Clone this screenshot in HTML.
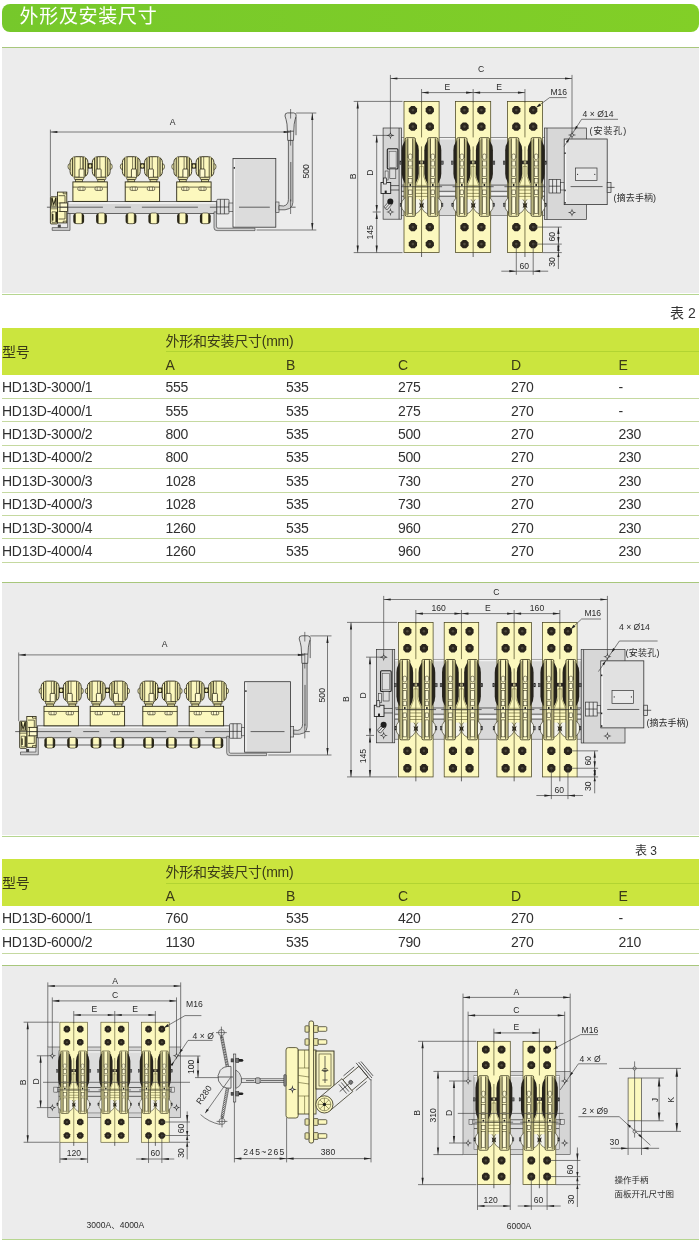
<!DOCTYPE html>
<html lang="zh"><head><meta charset="utf-8"><title>外形及安装尺寸</title>
<style>
html,body{margin:0;padding:0;background:#fff}
body{width:700px;height:1244px;position:relative;overflow:hidden;font-family:"Liberation Sans","Noto Sans CJK SC",sans-serif;color:#2b2b2b}
.hdr{position:absolute;left:2px;top:4px;width:696.5px;height:27.5px;border-radius:8px;background:linear-gradient(90deg,#76c82b,#82cf27);color:#fff;font-size:19px;line-height:25px;letter-spacing:0.7px;box-sizing:border-box;padding-left:17.5px}
.panel{position:absolute;left:2px;width:696.5px;background:#ececec;border-top:1px solid #a8c77c;box-sizing:border-box}
.pl{position:absolute;left:2px;width:696.5px;height:1px;background:#b6d690}
.cap{position:absolute;font-size:14px;line-height:16px;color:#333;white-space:nowrap}
table{position:absolute;left:2px;width:697px;border-collapse:collapse;table-layout:fixed;font-size:14px;letter-spacing:-0.25px}
td,th{box-sizing:border-box;line-height:16px;padding:1px 0 0 0;text-align:left;font-weight:normal;white-space:nowrap;overflow:visible}
thead th{background:#cbe53e;color:#3a3a18;padding:3px 0 0 0}
thead tr.r1 th.sp{border-bottom:1px solid #b2d432}
tbody td{border-bottom:1px solid #c5d9a0;color:#303030}
thead th.xh{padding:1px 0 0 0}
svg{position:absolute;left:0;top:0;will-change:transform}
table,.cap,.hdr{will-change:transform}
svg .d{stroke:#3a3a3a;stroke-width:.65;fill:none}
svg .ar{fill:#222;stroke:none}
svg .t{fill:#2b2b2b;font-family:"Liberation Sans","Noto Sans CJK SC",sans-serif}
svg .k{stroke:#2a2a2a;stroke-width:.7;fill:none}
svg .o{stroke:#5e5a2a;stroke-width:.6;fill:none}
svg .cl{stroke:#3a3a3a;stroke-width:.6;fill:none;stroke-dasharray:14 3 2 3}
</style></head><body>
<div class="hdr">外形及安装尺寸</div>
<div class="panel" style="top:47px;height:246px"></div><div class="pl" style="top:294px"></div>
<div class="cap" style="left:669.5px;top:305px">表 2</div>
<table style="top:328px"><colgroup><col style="width:163.5px"><col style="width:120.5px"><col style="width:112px"><col style="width:113px"><col style="width:107.5px"><col></colgroup><thead><tr class="r1" style="height:23.7px"><th class="xh" rowspan="2">型号</th><th class="sp" colspan="5">外形和安装尺寸(mm)</th></tr><tr style="height:23.2px"><th>A</th><th>B</th><th>C</th><th>D</th><th>E</th></tr></thead><tbody><tr style="height:23.45px"><td>HD13D-3000/1</td><td>555</td><td>535</td><td>275</td><td>270</td><td>-</td></tr><tr style="height:23.45px"><td>HD13D-4000/1</td><td>555</td><td>535</td><td>275</td><td>270</td><td>-</td></tr><tr style="height:23.45px"><td>HD13D-3000/2</td><td>800</td><td>535</td><td>500</td><td>270</td><td>230</td></tr><tr style="height:23.45px"><td>HD13D-4000/2</td><td>800</td><td>535</td><td>500</td><td>270</td><td>230</td></tr><tr style="height:23.45px"><td>HD13D-3000/3</td><td>1028</td><td>535</td><td>730</td><td>270</td><td>230</td></tr><tr style="height:23.45px"><td>HD13D-4000/3</td><td>1028</td><td>535</td><td>730</td><td>270</td><td>230</td></tr><tr style="height:23.45px"><td>HD13D-3000/4</td><td>1260</td><td>535</td><td>960</td><td>270</td><td>230</td></tr><tr style="height:23.45px"><td>HD13D-4000/4</td><td>1260</td><td>535</td><td>960</td><td>270</td><td>230</td></tr></tbody></table>
<div class="panel" style="top:582px;height:253px"></div><div class="pl" style="top:836px"></div>
<div class="cap" style="left:635px;top:843.5px;font-size:12px;line-height:14px">表 3</div>
<table style="top:859.4px"><colgroup><col style="width:163.5px"><col style="width:120.5px"><col style="width:112px"><col style="width:113px"><col style="width:107.5px"><col></colgroup><thead><tr class="r1" style="height:24px"><th class="xh" rowspan="2">型号</th><th class="sp" colspan="5">外形和安装尺寸(mm)</th></tr><tr style="height:23px"><th>A</th><th>B</th><th>C</th><th>D</th><th>E</th></tr></thead><tbody><tr style="height:23.6px"><td>HD13D-6000/1</td><td>760</td><td>535</td><td>420</td><td>270</td><td>-</td></tr><tr style="height:23.6px"><td>HD13D-6000/2</td><td>1130</td><td>535</td><td>790</td><td>270</td><td>210</td></tr></tbody></table>
<div class="panel" style="top:965px;height:273.5px"></div><div class="pl" style="top:1239px"></div>
<svg width="700" height="1244" viewBox="0 0 700 1244">
<defs><g id="pp"><rect x="0" y="0" width="35.1" height="151.2" fill="#fcf8be" stroke="#4a4622" stroke-width="0.75"/><ellipse cx="7.5" cy="103.7" rx="10.2" ry="9.6" fill="#f3f3ea" stroke="#2f2c16" stroke-width="0.6"/><ellipse cx="27.6" cy="103.7" rx="10.2" ry="9.6" fill="#f3f3ea" stroke="#2f2c16" stroke-width="0.6"/><rect x="11.5" y="84" width="12.1" height="14" fill="#fcf8be" stroke="none" stroke-width="0.6"/><path class="o" d="M11.5 85.6H23.6"/><path class="o" d="M11.5 88.6H23.6"/><path class="o" d="M11.5 92H23.6"/><path class="o" d="M11.5 95H23.6"/><rect x="-2.2" y="36.9" width="17" height="47.4" rx="8.5" ry="12" fill="#26231c"/><rect x="20.3" y="36.9" width="17" height="47.4" rx="8.5" ry="12" fill="#26231c"/><path fill="#fcf8be" stroke="#5e5a2a" stroke-width=".5" d="M15.6 65H19.6V75L23.2 84H12L15.6 75Z"/><rect x="14.3" y="59.2" width="6.6" height="3.6" fill="#2a2620"/><rect x="16.4" y="59.8" width="2.4" height="2.4" fill="#d9d5a8"/><path fill="#2a2620" d="M15.2 101.2Q17.6 103.6 20 101.2L19.2 104L20 106.8Q17.6 104.4 15.2 106.8L16 104Z"/><rect x="1.2" y="36.3" width="10.2" height="78.6" fill="#f6f1b6" stroke="#2f2c16" stroke-width="0.8" rx="1.4"/><rect x="3.9" y="37" width="4.8" height="77" fill="#fdf9c4" stroke="none" stroke-width="0.6"/><path stroke="#2f2c16" stroke-width=".95" fill="none" d="M3.8 37V57M8.8 37V57"/><path stroke="#2f2c16" stroke-width=".75" fill="none" d="M3.8 57V114M8.8 57V114"/><path stroke="#5e5a2a" stroke-width=".5" fill="none" d="M2.4 38V113.6M10.2 38V113.6"/><rect x="4.5" y="52.6" width="3.6" height="5.6" fill="#fffcd8" stroke="#2f2c16" stroke-width="0.55" rx="1.6"/><rect x="4.5" y="59.6" width="3.6" height="5" fill="#fffcd8" stroke="#2f2c16" stroke-width="0.55"/><rect x="4.5" y="66.6" width="3.6" height="8.6" fill="#fffcd8" stroke="#2f2c16" stroke-width="0.55"/><rect x="4.5" y="77" width="3.6" height="4.6" fill="#fffcd8" stroke="#2f2c16" stroke-width="0.55"/><rect x="4.5" y="88.6" width="3.6" height="4.4" fill="#fffcd8" stroke="#2f2c16" stroke-width="0.55"/><rect x="4.5" y="95.4" width="3.6" height="16.6" fill="#fffcd8" stroke="#2f2c16" stroke-width="0.55"/><circle cx="6.3" cy="83.7" r="1" fill="#111"/><rect x="23.7" y="36.3" width="10.2" height="78.6" fill="#f6f1b6" stroke="#2f2c16" stroke-width="0.8" rx="1.4"/><rect x="26.4" y="37" width="4.8" height="77" fill="#fdf9c4" stroke="none" stroke-width="0.6"/><path stroke="#2f2c16" stroke-width=".95" fill="none" d="M26.3 37V57M31.3 37V57"/><path stroke="#2f2c16" stroke-width=".75" fill="none" d="M26.3 57V114M31.3 57V114"/><path stroke="#5e5a2a" stroke-width=".5" fill="none" d="M24.9 38V113.6M32.7 38V113.6"/><rect x="27" y="52.6" width="3.6" height="5.6" fill="#fffcd8" stroke="#2f2c16" stroke-width="0.55" rx="1.6"/><rect x="27" y="59.6" width="3.6" height="5" fill="#fffcd8" stroke="#2f2c16" stroke-width="0.55"/><rect x="27" y="66.6" width="3.6" height="8.6" fill="#fffcd8" stroke="#2f2c16" stroke-width="0.55"/><rect x="27" y="77" width="3.6" height="4.6" fill="#fffcd8" stroke="#2f2c16" stroke-width="0.55"/><rect x="27" y="88.6" width="3.6" height="4.4" fill="#fffcd8" stroke="#2f2c16" stroke-width="0.55"/><rect x="27" y="95.4" width="3.6" height="16.6" fill="#fffcd8" stroke="#2f2c16" stroke-width="0.55"/><circle cx="28.8" cy="83.7" r="1" fill="#111"/><rect x="-4.1" y="59.6" width="1.7" height="3.4" fill="#6d6d6d" stroke="#222" stroke-width="0.5"/><rect x="37.5" y="59.6" width="1.7" height="3.4" fill="#6d6d6d" stroke="#222" stroke-width="0.5"/><rect x="-3.8" y="101.8" width="1.5" height="3.4" fill="#6d6d6d" stroke="#222" stroke-width="0.5"/><rect x="37.4" y="101.8" width="1.5" height="3.4" fill="#6d6d6d" stroke="#222" stroke-width="0.5"/><path class="k" d="M-3 85.3H38.1" stroke-width=".6"/><path d="M17.55 0V36M17.55 45V151.2" stroke="#4a4622" stroke-width=".7" fill="none"/><path fill="#2b261d" d="M13.03 10.41L10.61 12.83L7.19 12.83L4.77 10.41L4.77 6.99L7.19 4.57L10.61 4.57L13.03 6.99Z"/><circle cx="8.9" cy="8.7" r="1.29" fill="#4f4a3f"/><path fill="#2b261d" d="M13.03 26.91L10.61 29.33L7.19 29.33L4.77 26.91L4.77 23.49L7.19 21.07L10.61 21.07L13.03 23.49Z"/><circle cx="8.9" cy="25.2" r="1.29" fill="#4f4a3f"/><path fill="#2b261d" d="M13.03 127.41L10.61 129.83L7.19 129.83L4.77 127.41L4.77 123.99L7.19 121.57L10.61 121.57L13.03 123.99Z"/><circle cx="8.9" cy="125.7" r="1.29" fill="#4f4a3f"/><path fill="#2b261d" d="M13.03 144.41L10.61 146.83L7.19 146.83L4.77 144.41L4.77 140.99L7.19 138.57L10.61 138.57L13.03 140.99Z"/><circle cx="8.9" cy="142.7" r="1.29" fill="#4f4a3f"/><path fill="#2b261d" d="M29.93 10.41L27.51 12.83L24.09 12.83L21.67 10.41L21.67 6.99L24.09 4.57L27.51 4.57L29.93 6.99Z"/><circle cx="25.8" cy="8.7" r="1.29" fill="#4f4a3f"/><path fill="#2b261d" d="M29.93 26.91L27.51 29.33L24.09 29.33L21.67 26.91L21.67 23.49L24.09 21.07L27.51 21.07L29.93 23.49Z"/><circle cx="25.8" cy="25.2" r="1.29" fill="#4f4a3f"/><path fill="#2b261d" d="M29.93 127.41L27.51 129.83L24.09 129.83L21.67 127.41L21.67 123.99L24.09 121.57L27.51 121.57L29.93 123.99Z"/><circle cx="25.8" cy="125.7" r="1.29" fill="#4f4a3f"/><path fill="#2b261d" d="M29.93 144.41L27.51 146.83L24.09 146.83L21.67 144.41L21.67 140.99L24.09 138.57L27.51 138.57L29.93 140.99Z"/><circle cx="25.8" cy="142.7" r="1.29" fill="#4f4a3f"/></g><g id="un"><rect x="-3" y="-38.2" width="6" height="5.4" fill="#2a2718"/><ellipse cx="0" cy="-35.4" rx="1.4" ry="1.8" fill="#e9e4a6"/><ellipse cx="-20.4" cy="-34.8" rx="1.7" ry="2.8" fill="#fcf8be" stroke="#2b2816" stroke-width="0.7"/><ellipse cx="20.4" cy="-34.8" rx="1.7" ry="2.8" fill="#fcf8be" stroke="#2b2816" stroke-width="0.7"/><rect x="-20" y="-44.7" width="17.8" height="20.6" fill="#fcf8be" stroke="#2b2816" stroke-width="0.9" rx="5.6"/><rect x="-17.7" y="-44" width="2.2" height="19.2" fill="#ddd896" stroke="none" stroke-width="0.6"/><rect x="-6.7" y="-44" width="2.2" height="19.2" fill="#ddd896" stroke="none" stroke-width="0.6"/><path stroke="#2b2816" stroke-width=".9" fill="none" d="M-17.7 -43.4V-25.4M-4.5 -43.4V-25.4"/><path stroke="#2b2816" stroke-width=".7" fill="none" d="M-15.3 -44.4V-24.4M-6.9 -44.4V-24.4"/><path stroke="#2b2816" stroke-width=".6" fill="none" d="M-9.8 -44.4V-32M-7.2 -44.4V-32"/><rect x="-11" y="-32.4" width="5" height="9" fill="#fffbd0" stroke="#2b2816" stroke-width="0.8" rx="0.8"/><rect x="-15.7" y="-24.1" width="9.2" height="2.4" fill="#e9e4a6" stroke="#2b2816" stroke-width="0.7" rx="1"/><rect x="-14.5" y="-21.7" width="6.8" height="2.2" fill="#e9e4a6" stroke="#2b2816" stroke-width="0.7"/><rect x="2.2" y="-44.7" width="17.8" height="20.6" fill="#fcf8be" stroke="#2b2816" stroke-width="0.9" rx="5.6"/><rect x="4.5" y="-44" width="2.2" height="19.2" fill="#ddd896" stroke="none" stroke-width="0.6"/><rect x="15.5" y="-44" width="2.2" height="19.2" fill="#ddd896" stroke="none" stroke-width="0.6"/><path stroke="#2b2816" stroke-width=".9" fill="none" d="M4.5 -43.4V-25.4M17.7 -43.4V-25.4"/><path stroke="#2b2816" stroke-width=".7" fill="none" d="M6.9 -44.4V-24.4M15.3 -44.4V-24.4"/><path stroke="#2b2816" stroke-width=".6" fill="none" d="M7.2 -44.4V-32M9.8 -44.4V-32"/><rect x="6" y="-32.4" width="5" height="9" fill="#fffbd0" stroke="#2b2816" stroke-width="0.8" rx="0.8"/><rect x="6.5" y="-24.1" width="9.2" height="2.4" fill="#e9e4a6" stroke="#2b2816" stroke-width="0.7" rx="1"/><rect x="7.7" y="-21.7" width="6.8" height="2.2" fill="#e9e4a6" stroke="#2b2816" stroke-width="0.7"/><rect x="-17.2" y="-19.5" width="34.4" height="19.5" fill="#fcf8be" stroke="#2b2816" stroke-width="0.9"/><path stroke="#2b2816" stroke-width=".7" fill="none" d="M-17.2 -14.3H17.2"/><rect x="-12.3" y="-14.3" width="7.4" height="3.3" fill="#fffbd0" stroke="#2b2816" stroke-width="0.65" rx="1.2"/><path stroke="#2b2816" stroke-width=".5" fill="none" d="M-10.1 -14.3V-11M-7.1 -14.3V-11"/><rect x="4.9" y="-14.3" width="7.4" height="3.3" fill="#fffbd0" stroke="#2b2816" stroke-width="0.65" rx="1.2"/><path stroke="#2b2816" stroke-width=".5" fill="none" d="M7.1 -14.3V-11M10.1 -14.3V-11"/><rect x="-16.8" y="12" width="10.8" height="10.3" fill="#2a2718" stroke="none" stroke-width="0.6" rx="2.8"/><rect x="-14.7" y="11.6" width="6.6" height="10.7" fill="#fcf8be" stroke="#2b2816" stroke-width="0.6" rx="1.4"/><rect x="6" y="12" width="10.8" height="10.3" fill="#2a2718" stroke="none" stroke-width="0.6" rx="2.8"/><rect x="8.1" y="11.6" width="6.6" height="10.7" fill="#fcf8be" stroke="#2b2816" stroke-width="0.6" rx="1.4"/></g></defs>
<!-- panel 1 -->
<g><path fill="#cfcfcf" stroke="#333" stroke-width=".6" d="M52.2 230.4H70V213H67.6V227.6H52.2Z"/><rect x="57.8" y="224.6" width="3" height="3" fill="#444"/><rect x="67.9" y="201.4" width="148.9" height="12" fill="#d6d6d6" stroke="#444" stroke-width="0.8"/><path d="M68.9 203H215.8" stroke="#f4f4f4" stroke-width="1.4"/><use href="#un" x="0" y="0" transform="translate(90.1 201.4)"/><use href="#un" x="0" y="0" transform="translate(142.4 201.4)"/><use href="#un" x="0" y="0" transform="translate(193.9 201.4)"/><g transform="translate(50.4 201.4)"><rect x="7.1" y="-9.3" width="9.3" height="30.8" fill="#fcf8be" stroke="#2a2716" stroke-width="0.85"/><path stroke="#2a2716" stroke-width=".7" fill="none" d="M8.2 -5.7H14.6V1.6H8.2M8.2 10H14.6V17.6H8.2M12.8 -9.3V-7.6H16.4M12.8 21.5V19.8H16.4"/><rect x="9.6" y="1.6" width="7.6" height="8.4" fill="#fffbd0" stroke="#2a2716" stroke-width="0.75"/><path stroke="#2a2716" stroke-width=".6" fill="none" d="M9.6 5.8H17.2"/><rect x="0" y="-4.6" width="7.1" height="27.1" fill="#fcf8be" stroke="#2a2716" stroke-width="0.9" rx="0.8"/><path fill="#2a2716" d="M.8 -4H2.2L3.4 1.6L4.8 -4H6.2V4.4H4.9V-.4L3.6 4.4H3.1L2 -.4V4.4H.8Z"/><path stroke="#2a2716" stroke-width=".6" fill="none" d="M0 4.8H7.1M0 7.4H7.1M1.6 10.4H5.2V21H1.6Z"/><rect x="5.5" y="10.4" width="1.3" height="10.8" fill="#2a2716"/><rect x="1.7" y="12.6" width="1.3" height="6.6" fill="#2a2716"/></g><path class="k" stroke-dasharray="56 12 16 11" d="M46.9 207.2H216.8" stroke-width=".7"/><rect x="216.8" y="199.3" width="12.2" height="14.6" fill="#e2e2e2" stroke="#333" stroke-width="0.7" rx="1"/><path class="k" d="M220.4 199.3V213.9M224.4 199.3V213.9M216.8 207H229"/><rect x="229" y="203" width="4.4" height="8.4" fill="#e2e2e2" stroke="#333" stroke-width="0.6"/><path fill="#cfcfcf" stroke="#333" stroke-width=".6" d="M214 211.9V227.8Q214 230.6 217 230.6H255V228.2H218Q216.4 228.2 216.4 226.2V211.9Z"/><rect x="233" y="158.5" width="42.8" height="68.7" fill="#dcdcdc" stroke="#333" stroke-width="0.8"/><path d="M234.4 159.5V226.2" stroke="#f6f6f6" stroke-width="1.2"/><rect x="233.6" y="167.1" width="1.4" height="1.6" fill="#222"/><rect x="275.8" y="202" width="3.2" height="10.6" fill="#d8d8d8" stroke="#333" stroke-width="0.6"/><path class="k" d="M239 207.2H269.8M281.8 207.2H295.6" stroke-width=".6"/><path fill="#d4d4d4" stroke="#333" stroke-width=".7" d="M288.4 140V199.4Q288.4 205 283.6 206L279 205.6L279 209.8Q292.9 211 292.9 202.4V140Z"/><path class="k" d="M290.8 162V201.4" stroke-width=".5"/><path fill="#e2e2e2" stroke="#333" stroke-width=".75" d="M285 116Q284.7 112.9 287.6 112.9H293.6Q296.5 112.9 296.2 116Q295 119.2 294.2 124.2L293.8 131.2L293.5 140.4H287.7L287.4 131.2L287 124.2Q286.2 119.2 285 116Z"/><path class="k" d="M296 117.2V135.2" stroke-width=".9"/><path class="k" d="M287.4 131.2H293.8" stroke-width=".6"/><path class="d" d="M290.6 109V118.6M290.6 130.2V145.6M290.6 199.4V214"/><path class="d" d="M50.4 129.6L50.4 196.8"/><path class="d" d="M50.4 132L290.6 132"/><path class="ar" d="M50.4 132L57.4 130.9L57.4 133.1Z"/><path class="ar" d="M290.6 132L283.6 133.1L283.6 130.9Z"/><text class="t" x="172.5" y="124.5" font-size="8.6" text-anchor="middle">A</text><path class="d" d="M296.1 113L316.3 113"/><path class="d" d="M256.6 230L316.3 230"/><path class="d" d="M312.3 113L312.3 230"/><path class="ar" d="M312.3 113L313.4 120L311.2 120Z"/><path class="ar" d="M312.3 230L311.2 223L313.4 223Z"/><text transform="rotate(-90 306 171.3)" class="t" x="306" y="174.4" font-size="8.6" text-anchor="middle">500</text></g>
<g><rect x="401.4" y="137.5" width="143.2" height="78.2" fill="#d9d9d9" stroke="#555" stroke-width="0.6"/><path d="M401.4 138.7H544.6" stroke="#f2f2f2" stroke-width="1.4"/><path class="k" d="M401.4 185.1H544.6M401.4 191.3H544.6M401.4 196.3H544.6" stroke="#555" stroke-width=".6"/><path d="M401.4 193.8H544.6" stroke="#efefef" stroke-width="2.6"/><g transform="translate(383.1 128) scale(1 1.0000)"><rect x="0" y="0" width="18.3" height="91.2" fill="#d6d6d6" stroke="#333" stroke-width="0.7"/><path class="k" d="M16 0V91.2" stroke-width=".5"/><rect x="4.2" y="20.7" width="10.6" height="20.3" fill="#cfcfcf" stroke="#222" stroke-width="1.1" rx="1"/><rect x="6" y="23.6" width="7" height="15.8" fill="#dedede" stroke="#444" stroke-width="0.5"/><rect x="6.7" y="41" width="6" height="9.3" fill="#dcdcdc" stroke="#333" stroke-width="0.6"/><rect x="2" y="43" width="3" height="9" fill="#e6e6e6" stroke="#333" stroke-width="0.6"/><rect x="-2.1" y="54.5" width="9.7" height="11" fill="#e2e2e2" stroke="#222" stroke-width="0.9"/><rect x="0.4" y="50" width="3" height="6" fill="#e2e2e2" stroke="#222" stroke-width="0.7"/><rect x="1.6" y="62.6" width="2" height="2.4" fill="#222"/><path class="k" d="M7.6 57.6H16M7.6 62H16" stroke="#888"/><path fill="#e4e4e4" stroke="#222" stroke-width=".7" d="M1.2 78.6L6.4 72.8L9.4 75.6L4.2 81.6Q1.8 81.6 1.2 78.6Z"/><path class="k" d="M2.6 80L7.8 74.2" stroke-width=".5"/><circle cx="7.2" cy="73.6" r="3" fill="#1e1e1e"/></g><g transform="translate(544.6 128) scale(1 1.0000)"><rect x="0" y="0" width="41.8" height="91.4" fill="#d7d7d7" stroke="#333" stroke-width="0.7"/><path class="k" d="M2.4 0V91.4" stroke-width=".5"/><rect x="4.4" y="51.4" width="11.6" height="13.6" fill="#e6e6e6" stroke="#333" stroke-width="0.7"/><path class="k" d="M8 51.4V65M12 51.4V65M4.4 58.2H16" stroke-width=".55"/><rect x="16" y="54.6" width="3.6" height="7.4" fill="#e6e6e6" stroke="#333" stroke-width="0.6"/><rect x="19.6" y="11" width="43" height="65.6" fill="#e1e1e1" stroke="#333" stroke-width="0.8"/><path d="M21 12.4V75" stroke="#f8f8f8" stroke-width="1.3"/><rect x="19.8" y="24.4" width="1.3" height="1.6" fill="#222"/><rect x="19.8" y="61.6" width="1.3" height="1.6" fill="#222"/><rect x="19.8" y="74" width="1.3" height="1.6" fill="#222"/><rect x="30.8" y="40" width="21.6" height="12.6" fill="#e9e9e9" stroke="#333" stroke-width="0.7"/><circle cx="33" cy="46.3" r=".6" fill="#222"/><circle cx="50.2" cy="46.3" r=".6" fill="#222"/><rect x="62.6" y="54.4" width="3.8" height="10.2" fill="#e1e1e1" stroke="#333" stroke-width="0.7"/><path class="k" d="M26 58.6H58M62.6 59.4H70" stroke-width=".6"/></g><use href="#pp" x="0" y="0" transform="translate(404 101.4)"/><path class="k" d="M421.55 252.6L421.55 257"/><use href="#pp" x="0" y="0" transform="translate(455.6 101.4)"/><path class="k" d="M473.15 252.6L473.15 257"/><use href="#pp" x="0" y="0" transform="translate(507.4 101.4)"/><path class="k" d="M524.95 252.6L524.95 257"/><path fill="#333" d="M390.4 131.2L391.2 134.6L394.6 135.4L391.2 136.2L390.4 139.6L389.6 136.2L386.2 135.4L389.6 134.6Z"/><circle cx="390.4" cy="135.4" r="1.5" fill="#dcdcdc" stroke="#333" stroke-width=".5"/><path fill="#333" d="M390.4 207.8L391.2 211.2L394.6 212L391.2 212.8L390.4 216.2L389.6 212.8L386.2 212L389.6 211.2Z"/><circle cx="390.4" cy="212" r="1.5" fill="#dcdcdc" stroke="#333" stroke-width=".5"/><path fill="#333" d="M572 130.8L572.8 134.2L576.2 135L572.8 135.8L572 139.2L571.2 135.8L567.8 135L571.2 134.2Z"/><circle cx="572" cy="135" r="1.5" fill="#dcdcdc" stroke="#333" stroke-width=".5"/><path fill="#333" d="M572 208.4L572.8 211.8L576.2 212.6L572.8 213.4L572 216.8L571.2 213.4L567.8 212.6L571.2 211.8Z"/><circle cx="572" cy="212.6" r="1.5" fill="#dcdcdc" stroke="#333" stroke-width=".5"/><path class="d" d="M353.7 101.4L402.5 101.4"/><path class="d" d="M353.7 252.6L402.5 252.6"/><path class="d" d="M357.7 101.4L357.7 252.6"/><path class="ar" d="M357.7 101.4L358.8 108.4L356.6 108.4Z"/><path class="ar" d="M357.7 252.6L356.6 245.6L358.8 245.6Z"/><text transform="rotate(-90 352.5 176.4)" class="t" x="352.5" y="179.5" font-size="8.6" text-anchor="middle">B</text><path class="d" d="M372.7 135.4L393.4 135.4"/><path class="d" d="M372.7 212L380.7 212"/><path class="d" d="M376.7 135.4L376.7 212"/><path class="ar" d="M376.7 135.4L377.8 142.4L375.6 142.4Z"/><path class="ar" d="M376.7 212L375.6 205L377.8 205Z"/><text transform="rotate(-90 369.7 172.7)" class="t" x="369.7" y="175.8" font-size="8.6" text-anchor="middle">D</text><path class="d" d="M376.7 212L376.7 252.6"/><path class="ar" d="M376.7 212L377.8 219L375.6 219Z"/><path class="ar" d="M376.7 252.6L375.6 245.6L377.8 245.6Z"/><text transform="rotate(-90 369.7 232.3)" class="t" x="369.7" y="235.4" font-size="8.6" text-anchor="middle">145</text><path class="d" d="M390.4 74.9L390.4 132.4"/><path class="d" d="M572 74.9L572 132.4"/><path class="d" d="M390.4 78.5L572 78.5"/><path class="ar" d="M390.4 78.5L397.4 77.4L397.4 79.6Z"/><path class="ar" d="M572 78.5L565 79.6L565 77.4Z"/><text class="t" x="481" y="71.7" font-size="8.6" text-anchor="middle">C</text><path class="d" d="M421.55 89L421.55 102.4"/><path class="d" d="M473.15 89L473.15 102.4"/><path class="d" d="M524.95 89L524.95 102.4"/><path class="d" d="M421.55 92.6L473.15 92.6"/><path class="ar" d="M421.55 92.6L428.55 91.5L428.55 93.7Z"/><path class="ar" d="M473.15 92.6L466.15 93.7L466.15 91.5Z"/><text class="t" x="447.35" y="89.5" font-size="8.6" text-anchor="middle">E</text><path class="d" d="M473.15 92.6L524.95 92.6"/><path class="ar" d="M473.15 92.6L480.15 91.5L480.15 93.7Z"/><path class="ar" d="M524.95 92.6L517.95 93.7L517.95 91.5Z"/><text class="t" x="499.05" y="89.5" font-size="8.6" text-anchor="middle">E</text><path class="d" d="M533.2 227.1L561.8 227.1"/><path class="d" d="M533.2 244.1L561.8 244.1"/><path class="d" d="M542.5 252.6L561.8 252.6"/><path class="d" d="M558.4 227.1L558.4 269"/><path class="ar" d="M558.4 227.1L559.5 234.1L557.3 234.1Z"/><path class="ar" d="M558.4 244.1L557.3 237.1L559.5 237.1Z"/><path class="ar" d="M558.4 244.1L559.5 251.1L557.3 251.1Z"/><path class="ar" d="M558.4 252.6L557.3 245.6L559.5 245.6Z"/><path class="ar" d="M558.4 252.6L559.5 257L557.3 257Z"/><text transform="rotate(-90 551.6 236.8)" class="t" x="551.6" y="239.9" font-size="8.6" text-anchor="middle">60</text><text transform="rotate(-90 551.6 262)" class="t" x="551.6" y="265.1" font-size="8.6" text-anchor="middle">30</text><path class="d" d="M516.3 244.1L516.3 274.8"/><path class="d" d="M533.2 244.1L533.2 274.8"/><path class="d" d="M501.3 271.2L548.2 271.2"/><path class="ar" d="M516.3 271.2L509.3 272.3L509.3 270.1Z"/><path class="ar" d="M533.2 271.2L540.2 270.1L540.2 272.3Z"/><text class="t" x="524.35" y="269.1" font-size="8.6" text-anchor="middle">60</text></g>
<text class="t" x="550.4" y="95.3" font-size="8.6" text-anchor="start">M16</text><path class="d" d="M549.6 97.6L566.6 97.6"/><path class="d" d="M549.6 97.6L536.6 107.2"/><path class="ar" d="M536.2 107.6L539.35 103.47L541.04 105.71Z"/><text class="t" x="582.6" y="116.7" font-size="8.6" text-anchor="start">4 × Ø14</text><path class="d" d="M581.6 119.3L618 119.3"/><path class="d" d="M581.6 119.3L564 146.5"/><path class="ar" d="M574.6 130L575.99 125.66L578 126.96Z"/><path class="ar" d="M569.4 138.4L568.01 142.74L566 141.44Z"/><text class="t" x="589.6" y="133.64" font-size="9" text-anchor="start" letter-spacing=".9">(安装孔)</text><text class="t" x="613.6" y="201.44" font-size="9" text-anchor="start" letter-spacing=".1">(摘去手柄)</text><!-- panel 2 -->
<g><path fill="#cfcfcf" stroke="#333" stroke-width=".6" d="M20.5 754.8H38.3V737.4H35.9V752H20.5Z"/><rect x="26.1" y="749" width="3" height="3" fill="#444"/><rect x="37.4" y="725.8" width="192.1" height="12" fill="#d6d6d6" stroke="#444" stroke-width="0.8"/><path d="M38.4 727.4H228.5" stroke="#f4f4f4" stroke-width="1.4"/><use href="#un" x="0" y="0" transform="translate(61.2 725.8)"/><use href="#un" x="0" y="0" transform="translate(107.4 725.8)"/><use href="#un" x="0" y="0" transform="translate(160 725.8)"/><use href="#un" x="0" y="0" transform="translate(206.4 725.8)"/><path class="k" stroke-width=".5" d="M44.2 745H223.4"/><g transform="translate(19.7 725.8)"><rect x="7.1" y="-9.3" width="9.3" height="30.8" fill="#fcf8be" stroke="#2a2716" stroke-width="0.85"/><path stroke="#2a2716" stroke-width=".7" fill="none" d="M8.2 -5.7H14.6V1.6H8.2M8.2 10H14.6V17.6H8.2M12.8 -9.3V-7.6H16.4M12.8 21.5V19.8H16.4"/><rect x="9.6" y="1.6" width="7.6" height="8.4" fill="#fffbd0" stroke="#2a2716" stroke-width="0.75"/><path stroke="#2a2716" stroke-width=".6" fill="none" d="M9.6 5.8H17.2"/><rect x="0" y="-4.6" width="7.1" height="27.1" fill="#fcf8be" stroke="#2a2716" stroke-width="0.9" rx="0.8"/><path fill="#2a2716" d="M.8 -4H2.2L3.4 1.6L4.8 -4H6.2V4.4H4.9V-.4L3.6 4.4H3.1L2 -.4V4.4H.8Z"/><path stroke="#2a2716" stroke-width=".6" fill="none" d="M0 4.8H7.1M0 7.4H7.1M1.6 10.4H5.2V21H1.6Z"/><rect x="5.5" y="10.4" width="1.3" height="10.8" fill="#2a2716"/><rect x="1.7" y="12.6" width="1.3" height="6.6" fill="#2a2716"/></g><path class="k" stroke-dasharray="56 12 16 11" d="M15.2 731.6H229.5" stroke-width=".7"/><rect x="229.5" y="723.7" width="12.2" height="14.6" fill="#e2e2e2" stroke="#333" stroke-width="0.7" rx="1"/><path class="k" d="M233.1 723.7V738.3M237.1 723.7V738.3M229.5 731.4H241.7"/><rect x="241.7" y="727.4" width="4.4" height="8.4" fill="#e2e2e2" stroke="#333" stroke-width="0.6"/><path fill="#cfcfcf" stroke="#333" stroke-width=".6" d="M226.7 736.3V752.8Q226.7 755.6 229.7 755.6H266.6V753.2H230.7Q229.1 753.2 229.1 751.2V736.3Z"/><rect x="244.6" y="681.7" width="45.9" height="70.5" fill="#dcdcdc" stroke="#333" stroke-width="0.8"/><path d="M246 682.7V751.2" stroke="#f6f6f6" stroke-width="1.2"/><rect x="245.2" y="690.3" width="1.4" height="1.6" fill="#222"/><rect x="290.5" y="726.4" width="3.2" height="10.6" fill="#d8d8d8" stroke="#333" stroke-width="0.6"/><path class="k" d="M250.6 731.6H284.5M296.5 731.6H309.8" stroke-width=".6"/><path fill="#d4d4d4" stroke="#333" stroke-width=".7" d="M302.6 662.9V723.8Q302.6 729.4 297.8 730.4L293.7 730L293.7 734.2Q307.1 735.4 307.1 726.8V662.9Z"/><path class="k" d="M305 684.9V725.8" stroke-width=".5"/><path fill="#e2e2e2" stroke="#333" stroke-width=".75" d="M299.2 638.9Q298.9 635.8 301.8 635.8H307.8Q310.7 635.8 310.4 638.9Q309.2 642.1 308.4 647.1L308 654.1L307.7 663.3H301.9L301.6 654.1L301.2 647.1Q300.4 642.1 299.2 638.9Z"/><path class="k" d="M310.2 640.1V658.1" stroke-width=".9"/><path class="k" d="M301.6 654.1H308" stroke-width=".6"/><path class="d" d="M304.8 631.9V641.5M304.8 653.1V668.5M304.8 723.8V738.4"/><path class="d" d="M18.7 652.5L18.7 721.2"/><path class="d" d="M18.7 654.9L304.8 654.9"/><path class="ar" d="M18.7 654.9L25.7 653.8L25.7 656Z"/><path class="ar" d="M304.8 654.9L297.8 656L297.8 653.8Z"/><text class="t" x="164.6" y="647.3" font-size="8.6" text-anchor="middle">A</text><path class="d" d="M310.3 635.9L331.5 635.9"/><path class="d" d="M268.2 755L331.5 755"/><path class="d" d="M327.5 635.9L327.5 755"/><path class="ar" d="M327.5 635.9L328.6 642.9L326.4 642.9Z"/><path class="ar" d="M327.5 755L326.4 748L328.6 748Z"/><text transform="rotate(-90 321.6 695.25)" class="t" x="321.6" y="698.35" font-size="8.6" text-anchor="middle">500</text></g>
<g><rect x="394.7" y="659.29" width="186.5" height="79.92" fill="#d9d9d9" stroke="#555" stroke-width="0.6"/><path d="M394.7 660.49H581.2" stroke="#f2f2f2" stroke-width="1.4"/><path class="k" d="M394.7 707.98H581.2M394.7 714.18H581.2M394.7 719.18H581.2" stroke="#555" stroke-width=".6"/><path d="M394.7 716.68H581.2" stroke="#efefef" stroke-width="2.6"/><g transform="translate(376.4 649.59) scale(1 1.0220)"><rect x="0" y="0" width="18.3" height="91.2" fill="#d6d6d6" stroke="#333" stroke-width="0.7"/><path class="k" d="M16 0V91.2" stroke-width=".5"/><rect x="4.2" y="20.7" width="10.6" height="20.3" fill="#cfcfcf" stroke="#222" stroke-width="1.1" rx="1"/><rect x="6" y="23.6" width="7" height="15.8" fill="#dedede" stroke="#444" stroke-width="0.5"/><rect x="6.7" y="41" width="6" height="9.3" fill="#dcdcdc" stroke="#333" stroke-width="0.6"/><rect x="2" y="43" width="3" height="9" fill="#e6e6e6" stroke="#333" stroke-width="0.6"/><rect x="-2.1" y="54.5" width="9.7" height="11" fill="#e2e2e2" stroke="#222" stroke-width="0.9"/><rect x="0.4" y="50" width="3" height="6" fill="#e2e2e2" stroke="#222" stroke-width="0.7"/><rect x="1.6" y="62.6" width="2" height="2.4" fill="#222"/><path class="k" d="M7.6 57.6H16M7.6 62H16" stroke="#888"/><path fill="#e4e4e4" stroke="#222" stroke-width=".7" d="M1.2 78.6L6.4 72.8L9.4 75.6L4.2 81.6Q1.8 81.6 1.2 78.6Z"/><path class="k" d="M2.6 80L7.8 74.2" stroke-width=".5"/><circle cx="7.2" cy="73.6" r="3" fill="#1e1e1e"/></g><g transform="translate(581.2 649.59) scale(1 1.0220)"><rect x="0" y="0" width="43.8" height="91.4" fill="#d7d7d7" stroke="#333" stroke-width="0.7"/><path class="k" d="M2.4 0V91.4" stroke-width=".5"/><rect x="4.4" y="51.4" width="11.6" height="13.6" fill="#e6e6e6" stroke="#333" stroke-width="0.7"/><path class="k" d="M8 51.4V65M12 51.4V65M4.4 58.2H16" stroke-width=".55"/><rect x="16" y="54.6" width="3.6" height="7.4" fill="#e6e6e6" stroke="#333" stroke-width="0.6"/><rect x="19.6" y="11" width="43" height="65.6" fill="#e1e1e1" stroke="#333" stroke-width="0.8"/><path d="M21 12.4V75" stroke="#f8f8f8" stroke-width="1.3"/><rect x="19.8" y="24.4" width="1.3" height="1.6" fill="#222"/><rect x="19.8" y="61.6" width="1.3" height="1.6" fill="#222"/><rect x="19.8" y="74" width="1.3" height="1.6" fill="#222"/><rect x="30.8" y="40" width="21.6" height="12.6" fill="#e9e9e9" stroke="#333" stroke-width="0.7"/><circle cx="33" cy="46.3" r=".6" fill="#222"/><circle cx="50.2" cy="46.3" r=".6" fill="#222"/><rect x="62.6" y="54.4" width="3.8" height="10.2" fill="#e1e1e1" stroke="#333" stroke-width="0.7"/><path class="k" d="M26 58.6H58M62.6 59.4H70" stroke-width=".6"/></g><use href="#pp" transform="translate(398.6 622.4) scale(0.9830 1.0220)"/><path class="k" d="M415.85 776.93L415.85 781.33"/><use href="#pp" transform="translate(444.2 622.4) scale(0.9830 1.0220)"/><path class="k" d="M461.45 776.93L461.45 781.33"/><use href="#pp" transform="translate(496.9 622.4) scale(0.9830 1.0220)"/><path class="k" d="M514.15 776.93L514.15 781.33"/><use href="#pp" transform="translate(542.6 622.4) scale(0.9830 1.0220)"/><path class="k" d="M559.85 776.93L559.85 781.33"/><path fill="#333" d="M383.7 652.95L384.5 656.35L387.9 657.15L384.5 657.95L383.7 661.35L382.9 657.95L379.5 657.15L382.9 656.35Z"/><circle cx="383.7" cy="657.15" r="1.5" fill="#dcdcdc" stroke="#333" stroke-width=".5"/><path fill="#333" d="M383.7 731.23L384.5 734.63L387.9 735.43L384.5 736.23L383.7 739.63L382.9 736.23L379.5 735.43L382.9 734.63Z"/><circle cx="383.7" cy="735.43" r="1.5" fill="#dcdcdc" stroke="#333" stroke-width=".5"/><path fill="#333" d="M607.4 652.55L608.2 655.95L611.6 656.75L608.2 657.55L607.4 660.95L606.6 657.55L603.2 656.75L606.6 655.95Z"/><circle cx="607.4" cy="656.75" r="1.5" fill="#dcdcdc" stroke="#333" stroke-width=".5"/><path fill="#333" d="M607.4 731.83L608.2 735.23L611.6 736.03L608.2 736.83L607.4 740.23L606.6 736.83L603.2 736.03L606.6 735.23Z"/><circle cx="607.4" cy="736.03" r="1.5" fill="#dcdcdc" stroke="#333" stroke-width=".5"/><path class="d" d="M347 622.4L397.1 622.4"/><path class="d" d="M347 776.93L397.1 776.93"/><path class="d" d="M351 622.4L351 776.93"/><path class="ar" d="M351 622.4L352.1 629.4L349.9 629.4Z"/><path class="ar" d="M351 776.93L349.9 769.93L352.1 769.93Z"/><text transform="rotate(-90 345.8 699.06)" class="t" x="345.8" y="702.16" font-size="8.6" text-anchor="middle">B</text><path class="d" d="M366 657.15L386.7 657.15"/><path class="d" d="M366 735.43L374 735.43"/><path class="d" d="M370 657.15L370 735.43"/><path class="ar" d="M370 657.15L371.1 664.15L368.9 664.15Z"/><path class="ar" d="M370 735.43L368.9 728.43L371.1 728.43Z"/><text transform="rotate(-90 363 695.29)" class="t" x="363" y="698.39" font-size="8.6" text-anchor="middle">D</text><path class="d" d="M370 735.43L370 776.93"/><path class="ar" d="M370 735.43L371.1 742.43L368.9 742.43Z"/><path class="ar" d="M370 776.93L368.9 769.93L371.1 769.93Z"/><text transform="rotate(-90 363 756.18)" class="t" x="363" y="759.28" font-size="8.6" text-anchor="middle">145</text><path class="d" d="M383.7 595.9L383.7 654.15"/><path class="d" d="M607.4 595.9L607.4 654.15"/><path class="d" d="M383.7 599.5L607.4 599.5"/><path class="ar" d="M383.7 599.5L390.7 598.4L390.7 600.6Z"/><path class="ar" d="M607.4 599.5L600.4 600.6L600.4 598.4Z"/><text class="t" x="496.4" y="594.5" font-size="8.6" text-anchor="middle">C</text><path class="d" d="M415.85 610L415.85 623.4"/><path class="d" d="M461.45 610L461.45 623.4"/><path class="d" d="M514.15 610L514.15 623.4"/><path class="d" d="M559.85 610L559.85 623.4"/><path class="d" d="M415.85 613.6L461.45 613.6"/><path class="ar" d="M415.85 613.6L422.85 612.5L422.85 614.7Z"/><path class="ar" d="M461.45 613.6L454.45 614.7L454.45 612.5Z"/><text class="t" x="438.65" y="610.5" font-size="8.6" text-anchor="middle">160</text><path class="d" d="M461.45 613.6L514.15 613.6"/><path class="ar" d="M461.45 613.6L468.45 612.5L468.45 614.7Z"/><path class="ar" d="M514.15 613.6L507.15 614.7L507.15 612.5Z"/><text class="t" x="487.8" y="610.5" font-size="8.6" text-anchor="middle">E</text><path class="d" d="M514.15 613.6L559.85 613.6"/><path class="ar" d="M514.15 613.6L521.15 612.5L521.15 614.7Z"/><path class="ar" d="M559.85 613.6L552.85 614.7L552.85 612.5Z"/><text class="t" x="537" y="610.5" font-size="8.6" text-anchor="middle">160</text><path class="d" d="M567.96 750.87L598.1 750.87"/><path class="d" d="M567.96 768.24L598.1 768.24"/><path class="d" d="M577.1 776.93L598.1 776.93"/><path class="d" d="M594.7 750.87L594.7 793.33"/><path class="ar" d="M594.7 750.87L595.8 757.87L593.6 757.87Z"/><path class="ar" d="M594.7 768.24L593.6 761.24L595.8 761.24Z"/><path class="ar" d="M594.7 768.24L595.8 775.24L593.6 775.24Z"/><path class="ar" d="M594.7 776.93L593.6 769.93L595.8 769.93Z"/><path class="ar" d="M594.7 776.93L595.8 781.33L593.6 781.33Z"/><text transform="rotate(-90 587.9 760.75)" class="t" x="587.9" y="763.85" font-size="8.6" text-anchor="middle">60</text><text transform="rotate(-90 587.9 786.33)" class="t" x="587.9" y="789.42" font-size="8.6" text-anchor="middle">30</text><path class="d" d="M551.35 768.24L551.35 799.13"/><path class="d" d="M567.96 768.24L567.96 799.13"/><path class="d" d="M536.35 795.53L582.96 795.53"/><path class="ar" d="M551.35 795.53L544.35 796.63L544.35 794.43Z"/><path class="ar" d="M567.96 795.53L574.96 794.43L574.96 796.63Z"/><text class="t" x="559.26" y="793.42" font-size="8.6" text-anchor="middle">60</text></g>
<text class="t" x="584.4" y="616.1" font-size="8.6" text-anchor="start">M16</text><path class="d" d="M581.6 619L601 619"/><path class="d" d="M581.6 619L571.4 628.6"/><path class="ar" d="M570.8 629.2L573.5 624.77L575.41 626.81Z"/><text class="t" x="619" y="630.1" font-size="8.6" text-anchor="start">4 × Ø14</text><path class="d" d="M619.4 641L657.6 641"/><path class="d" d="M619.4 641L598.4 671.6"/><path class="ar" d="M611.6 652.4L613.1 648.09L615.08 649.45Z"/><path class="ar" d="M605.6 661L604.1 665.31L602.12 663.95Z"/><text class="t" x="625.6" y="656.04" font-size="9" text-anchor="start" letter-spacing=".2">(安装孔)</text><text class="t" x="646.4" y="726.04" font-size="9" text-anchor="start" letter-spacing="0">(摘去手柄)</text><!-- panel 3 -->
<g><rect x="47.8" y="1047" width="132.9" height="70.6" fill="#d5d5d5" stroke="#444" stroke-width="0.6"/><rect x="58.8" y="1050.86" width="110.9" height="62.09" fill="#dcdcdc" stroke="#555" stroke-width="0.5"/><path d="M58.8 1051.86H169.7" stroke="#f2f2f2" stroke-width="1.2"/><path class="k" stroke="#555" stroke-width=".55" d="M55.8 1087.53H172.7M55.8 1091.73H172.7M58.8 1096.33H169.7"/><rect x="53.8" y="1087.13" width="3.6" height="5" fill="#e0e0e0" stroke="#333" stroke-width="0.5"/><rect x="171.1" y="1087.13" width="3.6" height="5" fill="#e0e0e0" stroke="#333" stroke-width="0.5"/><use href="#pp" transform="translate(59.9 1022.2) scale(0.7890 0.7940)"/><path class="k" d="M73.75 1142.25L73.75 1145.85"/><use href="#pp" transform="translate(100.9 1022.2) scale(0.7890 0.7940)"/><path class="k" d="M114.75 1142.25L114.75 1145.85"/><use href="#pp" transform="translate(141.5 1022.2) scale(0.7890 0.7940)"/><path class="k" d="M155.35 1142.25L155.35 1145.85"/></g><path fill="#333" d="M52.3 1052L53.1 1055L56.1 1055.8L53.1 1056.6L52.3 1059.6L51.5 1056.6L48.5 1055.8L51.5 1055Z"/><circle cx="52.3" cy="1055.8" r="1.3" fill="#dcdcdc" stroke="#333" stroke-width=".5"/><path fill="#333" d="M52.3 1103.8L53.1 1106.8L56.1 1107.6L53.1 1108.4L52.3 1111.4L51.5 1108.4L48.5 1107.6L51.5 1106.8Z"/><circle cx="52.3" cy="1107.6" r="1.3" fill="#dcdcdc" stroke="#333" stroke-width=".5"/><path fill="#333" d="M176.5 1052L177.3 1055L180.3 1055.8L177.3 1056.6L176.5 1059.6L175.7 1056.6L172.7 1055.8L175.7 1055Z"/><circle cx="176.5" cy="1055.8" r="1.3" fill="#dcdcdc" stroke="#333" stroke-width=".5"/><path fill="#333" d="M176.5 1103.8L177.3 1106.8L180.3 1107.6L177.3 1108.4L176.5 1111.4L175.7 1108.4L172.7 1107.6L175.7 1106.8Z"/><circle cx="176.5" cy="1107.6" r="1.3" fill="#dcdcdc" stroke="#333" stroke-width=".5"/><path class="d" d="M43 1082.3L190 1082.3"/><path class="d" d="M47.8 982.4L47.8 1047"/><path class="d" d="M180.7 982.4L180.7 1047"/><path class="d" d="M47.8 986L180.7 986"/><path class="ar" d="M47.8 986L54.8 984.9L54.8 987.1Z"/><path class="ar" d="M180.7 986L173.7 987.1L173.7 984.9Z"/><text class="t" x="115.2" y="983.5" font-size="8.6" text-anchor="middle">A</text><path class="d" d="M52.3 997.4L52.3 1052.8"/><path class="d" d="M176.5 997.4L176.5 1052.8"/><path class="d" d="M52.3 1000.9L176.5 1000.9"/><path class="ar" d="M52.3 1000.9L59.3 999.8L59.3 1002Z"/><path class="ar" d="M176.5 1000.9L169.5 1002L169.5 999.8Z"/><text class="t" x="115.2" y="997.5" font-size="8.6" text-anchor="middle">C</text><path class="d" d="M73.75 1011L73.75 1023.2"/><path class="d" d="M114.75 1011L114.75 1023.2"/><path class="d" d="M155.35 1011L155.35 1023.2"/><path class="d" d="M73.75 1015L114.75 1015"/><path class="ar" d="M73.75 1015L80.75 1013.9L80.75 1016.1Z"/><path class="ar" d="M114.75 1015L107.75 1016.1L107.75 1013.9Z"/><text class="t" x="94.25" y="1011.7" font-size="8.6" text-anchor="middle">E</text><path class="d" d="M114.75 1015L155.35 1015"/><path class="ar" d="M114.75 1015L121.75 1013.9L121.75 1016.1Z"/><path class="ar" d="M155.35 1015L148.35 1016.1L148.35 1013.9Z"/><text class="t" x="135.05" y="1011.7" font-size="8.6" text-anchor="middle">E</text><path class="d" d="M23.6 1022.2L58.9 1022.2"/><path class="d" d="M23.6 1142.25L58.9 1142.25"/><path class="d" d="M27.7 1022.2L27.7 1142.25"/><path class="ar" d="M27.7 1022.2L28.8 1029.2L26.6 1029.2Z"/><path class="ar" d="M27.7 1142.25L26.6 1135.25L28.8 1135.25Z"/><text transform="rotate(-90 22.4 1082.4)" class="t" x="22.4" y="1085.5" font-size="8.6" text-anchor="middle">B</text><path class="d" d="M36.8 1055.8L49.3 1055.8"/><path class="d" d="M36.8 1107.6L49.3 1107.6"/><path class="d" d="M40.6 1055.8L40.6 1107.6"/><path class="ar" d="M40.6 1055.8L41.7 1062.8L39.5 1062.8Z"/><path class="ar" d="M40.6 1107.6L39.5 1100.6L41.7 1100.6Z"/><text transform="rotate(-90 35.6 1081.4)" class="t" x="35.6" y="1084.5" font-size="8.6" text-anchor="middle">D</text><path class="d" d="M59.9 1142.25L59.9 1163"/><path class="d" d="M87.59 1142.25L87.59 1163"/><path class="d" d="M59.9 1159L87.59 1159"/><path class="ar" d="M59.9 1159L66.9 1157.9L66.9 1160.1Z"/><path class="ar" d="M87.59 1159L80.59 1160.1L80.59 1157.9Z"/><text class="t" x="73.9" y="1155.5" font-size="8.6" text-anchor="middle">120</text><path class="d" d="M148.52 1135.5L148.52 1163"/><path class="d" d="M161.86 1135.5L161.86 1163"/><path class="d" d="M136.12 1159L174.26 1159"/><path class="ar" d="M148.52 1159L141.52 1160.1L141.52 1157.9Z"/><path class="ar" d="M161.86 1159L168.86 1157.9L168.86 1160.1Z"/><text class="t" x="155.19" y="1155.5" font-size="8.6" text-anchor="middle">60</text><path class="d" d="M161.86 1122.01L190 1122.01"/><path class="d" d="M161.86 1135.5L190 1135.5"/><path class="d" d="M169.19 1142.25L190 1142.25"/><path class="d" d="M187.2 1111.41L187.2 1159.4"/><path class="ar" d="M187.2 1122.01L186.1 1115.01L188.3 1115.01Z"/><path class="ar" d="M187.2 1135.5L188.3 1140.1L186.1 1140.1Z"/><path class="ar" d="M187.2 1135.5L186.1 1130.9L188.3 1130.9Z"/><path class="ar" d="M187.2 1142.25L188.3 1146.65L186.1 1146.65Z"/><text transform="rotate(-90 180.6 1128.4)" class="t" x="180.6" y="1131.5" font-size="8.6" text-anchor="middle">60</text><text transform="rotate(-90 180.6 1153)" class="t" x="180.6" y="1156.1" font-size="8.6" text-anchor="middle">30</text><text class="t" x="186" y="1006.9" font-size="8.6" text-anchor="start">M16</text><path class="d" d="M185 1015.6L201.4 1015.6"/><path class="d" d="M185 1015.6L164.6 1027.4"/><path class="ar" d="M164 1027.8L167.63 1024.09L169.03 1026.51Z"/><text class="t" x="192.6" y="1038.9" font-size="8.6" text-anchor="start">4 × Ø</text><path class="d" d="M188 1040.4L212.6 1040.4"/><path class="d" d="M188 1040.4L171 1066"/><path class="ar" d="M179.4 1053.2L180.84 1048.87L182.83 1050.2Z"/><path class="ar" d="M174 1061.4L172.56 1065.73L170.57 1064.4Z"/><text class="t" x="86.6" y="1228.46" font-size="8.5" text-anchor="start">3000A、4000A</text><g><path class="d" d="M179 1056L200.4 1056"/><path class="d" d="M195 1077.6L231 1077.6"/><path class="d" d="M198 1056L198 1077.6"/><path class="ar" d="M198 1056L199.1 1063L196.9 1063Z"/><path class="ar" d="M198 1077.6L196.9 1070.6L199.1 1070.6Z"/><text transform="rotate(-90 191.4 1066.8)" class="t" x="191.4" y="1069.9" font-size="8.6" text-anchor="middle">100</text><path fill="#e6e6e6" stroke="#333" stroke-width=".5" d="M230.68 1076.75L222.88 1036.15L220.32 1036.65L228.12 1077.25Z"/><path class="k" stroke-width=".45" d="M230.03 1073.37L227.24 1072.64M229.7 1071.68L226.91 1070.95M229.38 1069.99L226.59 1069.26M229.05 1068.3L226.26 1067.57M228.73 1066.6L225.94 1065.88M228.4 1064.91L225.61 1064.19M228.08 1063.22L225.29 1062.49M227.75 1061.53L224.96 1060.8M227.43 1059.84L224.64 1059.11M227.1 1058.15L224.31 1057.42M226.78 1056.45L223.99 1055.73M226.45 1054.76L223.66 1054.04M226.13 1053.07L223.34 1052.34M225.8 1051.38L223.01 1050.65M225.48 1049.69L222.69 1048.96M225.15 1048L222.36 1047.27M224.83 1046.3L222.04 1045.58M224.5 1044.61L221.71 1043.89M224.18 1042.92L221.39 1042.19M223.85 1041.23L221.06 1040.5M223.53 1039.54L220.74 1038.81M223.2 1037.85L220.41 1037.12"/><path fill="#e6e6e6" stroke="#333" stroke-width=".5" d="M228.12 1077.77L220.92 1117.37L223.48 1117.83L230.68 1078.23Z"/><path class="k" stroke-width=".45" d="M227.49 1081.21L229.84 1082.86M227.18 1082.93L229.52 1084.59M226.87 1084.65L229.21 1086.31M226.56 1086.38L228.9 1088.03M226.24 1088.1L228.58 1089.75M225.93 1089.82L228.27 1091.47M225.62 1091.54L227.96 1093.19M225.3 1093.26L227.65 1094.92M224.99 1094.98L227.33 1096.64M224.68 1096.71L227.02 1098.36M224.36 1098.43L226.71 1100.08M224.05 1100.15L226.39 1101.8M223.74 1101.87L226.08 1103.52M223.43 1103.59L225.77 1105.25M223.11 1105.32L225.45 1106.97M222.8 1107.04L225.14 1108.69M222.49 1108.76L224.83 1110.41M222.17 1110.48L224.52 1112.13M221.86 1112.2L224.2 1113.86M221.55 1113.92L223.89 1115.58M221.23 1115.65L223.58 1117.3"/><circle cx="221.4" cy="1032.6" r="3" fill="none" stroke="#333" stroke-width=".6"/><path class="d" d="M216 1032.6L226.8 1032.6"/><path class="d" d="M221.4 1026.6L221.4 1038.6"/><circle cx="222" cy="1121.4" r="3" fill="none" stroke="#333" stroke-width=".6"/><path class="d" d="M216.6 1121.4L227.4 1121.4"/><path class="d" d="M222 1115.4L222 1127.4"/><path fill="#e9e9e9" stroke="#333" stroke-width=".7" d="M231 1066.4Q223.4 1066 220.2 1070.4L218 1075.8L218.6 1081L222.6 1086.6Q226.6 1088.6 231 1088.2Z"/><path class="k" stroke-width=".5" d="M218 1077H233"/><rect x="233.6" y="1054" width="2.2" height="48" fill="#d8d8d8" stroke="#333" stroke-width="0.6"/><path fill="#dcdcdc" stroke="#333" stroke-width=".6" d="M235.8 1070Q240 1072 241.4 1077.6V1082.6Q240 1087 235.8 1088.4Z"/><rect x="231" y="1058.8" width="2.6" height="3.2" fill="#555" stroke="#222" stroke-width="0.4"/><rect x="235.8" y="1058.2" width="3" height="4.4" fill="#777" stroke="#222" stroke-width="0.5"/><path fill="#222" d="M238.8 1059.1H242.4L243.6 1060.4L242.4 1061.7H238.8Z"/><rect x="231" y="1092.2" width="2.6" height="3.2" fill="#555" stroke="#222" stroke-width="0.4"/><rect x="235.8" y="1091.6" width="3" height="4.4" fill="#777" stroke="#222" stroke-width="0.5"/><path fill="#222" d="M238.8 1092.5H242.4L243.6 1093.8L242.4 1095.1H238.8Z"/><rect x="241.4" y="1078.8" width="44.6" height="3.6" fill="#e2e2e2" stroke="#333" stroke-width="0.6"/><rect x="255.4" y="1077.8" width="4.8" height="5.6" fill="#bbb" stroke="#222" stroke-width="0.6" rx="1.4"/><path class="k" d="M246 1080.6H254M261 1080.6H284" stroke-width=".5"/><path class="d" d="M286.6 1118L286.6 1162.4"/><path class="d" d="M234.4 1102L234.4 1162.4"/><path class="d" d="M200.6 1114.6Q208.4 1122 220.4 1124.6"/><path class="d" d="M230.4 1077.6L205.6 1112.6"/><path class="ar" d="M205 1113.4L206.92 1108.63L208.87 1110.02Z"/><text class="t" font-size="8.6" text-anchor="middle" transform="translate(206.4 1096.6) rotate(-55)">R280</text><rect x="286" y="1047.6" width="12.2" height="70.4" fill="#fcf8be" stroke="#3d3a1e" stroke-width="0.8" rx="2.4"/><rect x="298.2" y="1050" width="17.8" height="64" fill="#fcf8be" stroke="#3d3a1e" stroke-width="0.8"/><path class="o" stroke="#4a4622" d="M298.2 1068H309M298.2 1096H309M298.2 1075.4L309 1077M298.2 1082.4L309 1084M304.6 1050V1068M304.6 1096V1114"/><path fill="#333" d="M292.4 1085L293.2 1088.6L296.8 1089.4L293.2 1090.2L292.4 1093.8L291.6 1090.2L288 1089.4L291.6 1088.6Z"/><circle cx="292.4" cy="1089.4" r="1.2" fill="#dcdcdc" stroke="#333" stroke-width=".5"/><rect x="283.8" y="1074.6" width="2.4" height="11.6" fill="#8a8a8a" stroke="#222" stroke-width="0.5" rx="1"/><rect x="316" y="1051" width="18" height="38" fill="#f2efc2" stroke="#2d2a18" stroke-width="0.9"/><rect x="319" y="1054" width="12" height="32" fill="#fcf8be" stroke="#3d3a1e" stroke-width="0.6"/><path class="k" stroke-width=".55" d="M325 1056V1083M322.4 1080H327.6M321.6 1070.6H328.4"/><ellipse cx="325" cy="1070" rx="2.4" ry="1.6" fill="none" stroke="#222" stroke-width=".6"/><rect x="309" y="1021" width="4.6" height="122" fill="#fcf8be" stroke="#2d2a18" stroke-width="0.8" rx="1.8"/><rect x="305" y="1025.8" width="4" height="6.4" fill="#e9e4a6" stroke="#2d2a18" stroke-width="0.7" rx="0.8"/><rect x="313.6" y="1025.6" width="4.6" height="6.8" fill="#e9e4a6" stroke="#2d2a18" stroke-width="0.7" rx="0.8"/><rect x="318.2" y="1026.7" width="8.6" height="4.6" fill="#fcf8be" stroke="#2d2a18" stroke-width="0.7" rx="1"/><rect x="305" y="1038.8" width="4" height="6.4" fill="#e9e4a6" stroke="#2d2a18" stroke-width="0.7" rx="0.8"/><rect x="313.6" y="1038.6" width="4.6" height="6.8" fill="#e9e4a6" stroke="#2d2a18" stroke-width="0.7" rx="0.8"/><rect x="318.2" y="1039.7" width="8.6" height="4.6" fill="#fcf8be" stroke="#2d2a18" stroke-width="0.7" rx="1"/><rect x="305" y="1118.8" width="4" height="6.4" fill="#e9e4a6" stroke="#2d2a18" stroke-width="0.7" rx="0.8"/><rect x="313.6" y="1118.6" width="4.6" height="6.8" fill="#e9e4a6" stroke="#2d2a18" stroke-width="0.7" rx="0.8"/><rect x="318.2" y="1119.7" width="8.6" height="4.6" fill="#fcf8be" stroke="#2d2a18" stroke-width="0.7" rx="1"/><rect x="305" y="1132.8" width="4" height="6.4" fill="#e9e4a6" stroke="#2d2a18" stroke-width="0.7" rx="0.8"/><rect x="313.6" y="1132.6" width="4.6" height="6.8" fill="#e9e4a6" stroke="#2d2a18" stroke-width="0.7" rx="0.8"/><rect x="318.2" y="1133.7" width="8.6" height="4.6" fill="#fcf8be" stroke="#2d2a18" stroke-width="0.7" rx="1"/><g transform="translate(324.4 1104.4) rotate(-40)"><path fill="#ececec" stroke="#2d2a18" stroke-width=".7" d="M0 -8.4H30V8.4H0Z"/><rect x="30" y="-7" width="21" height="14" fill="#ececec" stroke="#2d2a18" stroke-width="0.7"/><path class="k" stroke-width=".6" d="M33 -9.6H47M33 9.6H47M51 -11.4V11.4M53.4 -10.4V10.4M55.6 -9.4V9.4M24 -6V6M27 -6V6"/><circle cx="34.4" cy="0" r="2" fill="#777" stroke="#222" stroke-width=".5"/><path class="k" stroke-width=".5" d="M20 0H32"/></g><circle cx="324.4" cy="1104.4" r="8.6" fill="#fcf8be" stroke="#2d2a18" stroke-width=".8"/><circle cx="324.4" cy="1104.4" r="6.4" fill="none" stroke="#3d3a1e" stroke-width=".5"/><path class="o" stroke="#3d3a1e" d="M318 1104.4H330.8M324.4 1098V1110.8M319.9 1099.9L328.9 1108.9M319.9 1108.9L328.9 1099.9"/><circle cx="324.4" cy="1104.4" r="1.7" fill="#1d1d1d"/><path class="d" d="M371 1079L371 1162.4"/><path class="d" d="M234.4 1158.6L286.6 1158.6"/><path class="ar" d="M234.4 1158.6L241.4 1157.5L241.4 1159.7Z"/><path class="ar" d="M286.6 1158.6L279.6 1159.7L279.6 1157.5Z"/><path class="d" d="M286.6 1158.6L371 1158.6"/><path class="ar" d="M286.6 1158.6L293.6 1157.5L293.6 1159.7Z"/><path class="ar" d="M371 1158.6L364 1159.7L364 1157.5Z"/><text class="t" x="264.4" y="1154.7" font-size="8.6" text-anchor="middle" letter-spacing="1.2">245~265</text><text class="t" x="328" y="1155.3" font-size="8.6" text-anchor="middle">380</text></g>
<g><rect x="463" y="1071.4" width="107.2" height="83.2" fill="#d5d5d5" stroke="#444" stroke-width="0.6"/><rect x="474" y="1075.52" width="85.2" height="74.13" fill="#dcdcdc" stroke="#555" stroke-width="0.5"/><path d="M474 1076.52H559.2" stroke="#f2f2f2" stroke-width="1.2"/><path class="k" stroke="#555" stroke-width=".55" d="M471 1119.76H562.2M471 1123.96H562.2M474 1128.56H559.2"/><rect x="469" y="1119.36" width="3.6" height="5" fill="#e0e0e0" stroke="#333" stroke-width="0.5"/><rect x="560.6" y="1119.36" width="3.6" height="5" fill="#e0e0e0" stroke="#333" stroke-width="0.5"/><use href="#pp" transform="translate(477.5 1041.3) scale(0.9340 0.9480)"/><path class="k" d="M493.89 1184.64L493.89 1188.24"/><use href="#pp" transform="translate(523 1041.3) scale(0.9340 0.9480)"/><path class="k" d="M539.39 1184.64L539.39 1188.24"/></g><path fill="#333" d="M468.1 1077L468.9 1080.2L472.1 1081L468.9 1081.8L468.1 1085L467.3 1081.8L464.1 1081L467.3 1080.2Z"/><circle cx="468.1" cy="1081" r="1.4" fill="#dcdcdc" stroke="#333" stroke-width=".5"/><path fill="#333" d="M468.1 1139L468.9 1142.2L472.1 1143L468.9 1143.8L468.1 1147L467.3 1143.8L464.1 1143L467.3 1142.2Z"/><circle cx="468.1" cy="1143" r="1.4" fill="#dcdcdc" stroke="#333" stroke-width=".5"/><path fill="#333" d="M564.7 1077L565.5 1080.2L568.7 1081L565.5 1081.8L564.7 1085L563.9 1081.8L560.7 1081L563.9 1080.2Z"/><circle cx="564.7" cy="1081" r="1.4" fill="#dcdcdc" stroke="#333" stroke-width=".5"/><path fill="#333" d="M564.7 1139L565.5 1142.2L568.7 1143L565.5 1143.8L564.7 1147L563.9 1143.8L560.7 1143L563.9 1142.2Z"/><circle cx="564.7" cy="1143" r="1.4" fill="#dcdcdc" stroke="#333" stroke-width=".5"/><path class="d" d="M457.8 1113.4L563.4 1113.4"/><path class="d" d="M463 993.6L463 1071.4"/><path class="d" d="M570.2 993.6L570.2 1071.4"/><path class="d" d="M463 997.4L570.2 997.4"/><path class="ar" d="M463 997.4L470 996.3L470 998.5Z"/><path class="ar" d="M570.2 997.4L563.2 998.5L563.2 996.3Z"/><text class="t" x="516.4" y="994.9" font-size="8.6" text-anchor="middle">A</text><path class="d" d="M468.1 1011.6L468.1 1078"/><path class="d" d="M564.7 1011.6L564.7 1078"/><path class="d" d="M468.1 1015.4L564.7 1015.4"/><path class="ar" d="M468.1 1015.4L475.1 1014.3L475.1 1016.5Z"/><path class="ar" d="M564.7 1015.4L557.7 1016.5L557.7 1014.3Z"/><text class="t" x="516.4" y="1012.5" font-size="8.6" text-anchor="middle">C</text><path class="d" d="M493.89 1028.6L493.89 1042.3"/><path class="d" d="M539.39 1028.6L539.39 1042.3"/><path class="d" d="M493.89 1032.9L539.39 1032.9"/><path class="ar" d="M493.89 1032.9L500.89 1031.8L500.89 1034Z"/><path class="ar" d="M539.39 1032.9L532.39 1034L532.39 1031.8Z"/><text class="t" x="516.4" y="1030.3" font-size="8.6" text-anchor="middle">E</text><path class="d" d="M418 1041.3L476.5 1041.3"/><path class="d" d="M418 1184.64L476.5 1184.64"/><path class="d" d="M422.6 1041.3L422.6 1184.64"/><path class="ar" d="M422.6 1041.3L423.7 1048.3L421.5 1048.3Z"/><path class="ar" d="M422.6 1184.64L421.5 1177.64L423.7 1177.64Z"/><text transform="rotate(-90 416.6 1112.8)" class="t" x="416.6" y="1115.9" font-size="8.6" text-anchor="middle">B</text><path class="d" d="M433.4 1071.4L463 1071.4"/><path class="d" d="M433.4 1154.6L463 1154.6"/><path class="d" d="M438 1071.4L438 1154.6"/><path class="ar" d="M438 1071.4L439.1 1078.4L436.9 1078.4Z"/><path class="ar" d="M438 1154.6L436.9 1147.6L439.1 1147.6Z"/><text transform="rotate(-90 432.6 1115.4)" class="t" x="432.6" y="1118.5" font-size="8.6" text-anchor="middle">310</text><path class="d" d="M449 1081L465.1 1081"/><path class="d" d="M449 1143L465.1 1143"/><path class="d" d="M454 1081L454 1143"/><path class="ar" d="M454 1081L455.1 1088L452.9 1088Z"/><path class="ar" d="M454 1143L452.9 1136L455.1 1136Z"/><text transform="rotate(-90 448.6 1112.8)" class="t" x="448.6" y="1115.9" font-size="8.6" text-anchor="middle">D</text><path class="d" d="M477.5 1184.64L477.5 1210"/><path class="d" d="M510.28 1184.64L510.28 1210"/><path class="d" d="M477.5 1206L510.28 1206"/><path class="ar" d="M477.5 1206L484.5 1204.9L484.5 1207.1Z"/><path class="ar" d="M510.28 1206L503.28 1207.1L503.28 1204.9Z"/><text class="t" x="490.6" y="1202.9" font-size="8.6" text-anchor="middle">120</text><path class="d" d="M531.31 1176.58L531.31 1210"/><path class="d" d="M547.1 1176.58L547.1 1210"/><path class="d" d="M517.71 1206L560.7 1206"/><path class="ar" d="M531.31 1206L524.31 1207.1L524.31 1204.9Z"/><path class="ar" d="M547.1 1206L554.1 1204.9L554.1 1207.1Z"/><text class="t" x="538.6" y="1202.9" font-size="8.6" text-anchor="middle">60</text><path class="d" d="M547.1 1160.46L580.4 1160.46"/><path class="d" d="M547.1 1176.58L580.4 1176.58"/><path class="d" d="M555.78 1184.64L580.4 1184.64"/><path class="d" d="M577.4 1147.46L577.4 1207"/><path class="ar" d="M577.4 1160.46L576.3 1153.46L578.5 1153.46Z"/><path class="ar" d="M577.4 1176.58L578.5 1181.18L576.3 1181.18Z"/><path class="ar" d="M577.4 1176.58L576.3 1171.98L578.5 1171.98Z"/><path class="ar" d="M577.4 1184.64L578.5 1189.04L576.3 1189.04Z"/><text transform="rotate(-90 570.4 1169.6)" class="t" x="570.4" y="1172.7" font-size="8.6" text-anchor="middle">60</text><text transform="rotate(-90 570.4 1199.4)" class="t" x="570.4" y="1202.5" font-size="8.6" text-anchor="middle">30</text><text class="t" x="581.6" y="1032.5" font-size="8.6" text-anchor="start">M16</text><path class="d" d="M580.6 1034.6L598 1034.6"/><path class="d" d="M580.6 1034.6L553.6 1049"/><path class="ar" d="M553 1049.4L556.76 1045.82L558.07 1048.29Z"/><text class="t" x="579.4" y="1061.5" font-size="8.6" text-anchor="start">4 × Ø</text><path class="d" d="M578.4 1063.8L607 1063.8"/><path class="d" d="M578.4 1063.8L560 1090"/><path class="ar" d="M569.6 1076.2L571.14 1071.91L573.11 1073.28Z"/><text class="t" x="519" y="1228.66" font-size="8.5" text-anchor="middle">6000A</text><rect x="628.1" y="1078" width="13.4" height="42.8" fill="#fcf8be" stroke="#444" stroke-width="0.7"/><path class="d" d="M641.5 1120.8L641.5 1155"/><path class="d" d="M628.1 1120.8L628.1 1155"/><path class="d" d="M634.6 1061.4L634.6 1137.6"/><circle cx="634.6" cy="1068.4" r="1.6" fill="#ececec" stroke="#333" stroke-width=".6"/><circle cx="634.6" cy="1131.4" r="1.6" fill="#ececec" stroke="#333" stroke-width=".6"/><path class="d" d="M619 1068.4L681 1068.4"/><path class="d" d="M636.4 1131.4L681 1131.4"/><path class="d" d="M676.8 1068.4L676.8 1131.4"/><path class="ar" d="M676.8 1068.4L678.1 1076.8L675.5 1076.8Z"/><path class="ar" d="M676.8 1131.4L675.5 1123L678.1 1123Z"/><text transform="rotate(-90 671.4 1099.8)" class="t" x="671.4" y="1102.9" font-size="8.6" text-anchor="middle">K</text><path class="d" d="M641.5 1078L663.8 1078"/><path class="d" d="M641.5 1120.8L663.8 1120.8"/><path class="d" d="M659.1 1078L659.1 1120.8"/><path class="ar" d="M659.1 1078L660.4 1086.4L657.8 1086.4Z"/><path class="ar" d="M659.1 1120.8L657.8 1112.4L660.4 1112.4Z"/><text transform="rotate(-90 654.6 1100.2)" class="t" x="654.6" y="1103.3" font-size="8.6" text-anchor="middle">J</text><text class="t" x="582" y="1114.1" font-size="8.6" text-anchor="start">2 × Ø9</text><path class="d" d="M578.4 1116.7L619.2 1116.7"/><path class="d" d="M619.2 1116.7L650.4 1145.2"/><path class="ar" d="M627 1123.8L631.06 1125.88L629.44 1127.65Z"/><path class="ar" d="M642.4 1137.9L638.34 1135.82L639.96 1134.05Z"/><path class="d" d="M610.5 1148.3L659.1 1148.3"/><path class="ar" d="M628.1 1148.3L621.1 1149.4L621.1 1147.2Z"/><path class="ar" d="M641.5 1148.3L648.5 1147.2L648.5 1149.4Z"/><text class="t" x="614.4" y="1144.7" font-size="8.6" text-anchor="middle">30</text><text class="t" x="614.4" y="1183.26" font-size="8.5" text-anchor="start">操作手柄</text><text class="t" x="614.4" y="1197.26" font-size="8.5" text-anchor="start">面板开孔尺寸图</text></svg>
</body></html>
